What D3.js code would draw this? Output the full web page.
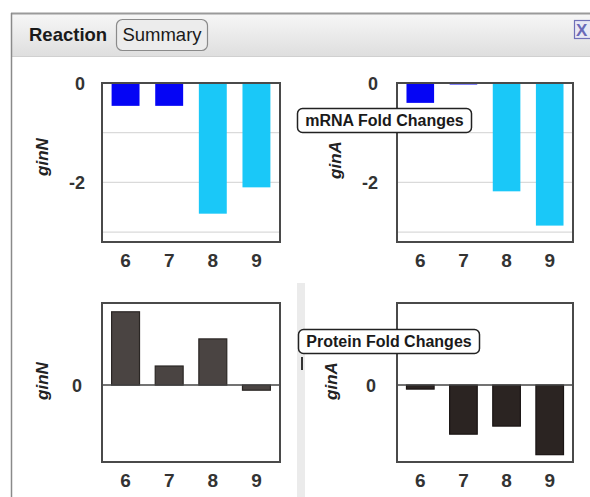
<!DOCTYPE html>
<html>
<head>
<meta charset="utf-8">
<script src="https://cdn.jsdelivr.net/npm/d3@7"></script>
<style>
html,body{margin:0;padding:0;background:#fff;}
svg{display:block;font-family:"Liberation Sans",Arial,sans-serif;}
</style>
</head>
<body>
<svg id="c" width="590" height="497"></svg>
<script>
// ---- data ----
const categories = ["6", "7", "8", "9"];
const mrnaGinN = [-0.46, -0.46, -2.63, -2.1];
const mrnaGinA = [-0.4, -0.03, -2.18, -2.87];
const proteinGinN = [1.0, 0.26, 0.63, -0.07];
const proteinGinA = [-0.055, -0.67, -0.56, -0.95];
const mrnaBarColors = ["#0505f5", "#0505f5", "#1ac8f8", "#1ac8f8"];
const mrnaTicks = [0, -2];
const mrnaGrid = [-1, -2, -3];
const proteinTicks = [0];
const geneLabels = ["ginN", "ginA"];
const sectionTitles = ["mRNA Fold Changes", "Protein Fold Changes"];

const svg = d3.select("#c");

// ---- window chrome ----
const defs = svg.append("defs");
const grad = defs.append("linearGradient").attr("id", "hdr").attr("x1", 0).attr("y1", 0).attr("x2", 0).attr("y2", 1);
grad.append("stop").attr("offset", "0%").attr("stop-color", "#f7f7f7");
grad.append("stop").attr("offset", "100%").attr("stop-color", "#dedede");

svg.append("rect").attr("x", 11).attr("y", 13).attr("width", 590).attr("height", 44).attr("fill", "url(#hdr)");
svg.append("line").attr("x1", 11).attr("x2", 590).attr("y1", 13.5).attr("y2", 13.5).attr("stroke", "#9a9a9a").attr("stroke-width", 2);
svg.append("line").attr("x1", 11).attr("x2", 590).attr("y1", 56.5).attr("y2", 56.5).attr("stroke", "#d0d0d0").attr("stroke-width", 1);
svg.append("line").attr("x1", 11.5).attr("x2", 11.5).attr("y1", 13).attr("y2", 497).attr("stroke", "#8a8a8a").attr("stroke-width", 1.5);

svg.append("text").attr("x", 29).attr("y", 41).attr("font-size", 18.5).attr("font-weight", "bold").attr("fill", "#1a1a1a").text("Reaction");
svg.append("rect").attr("x", 116.5).attr("y", 19.5).attr("width", 91).attr("height", 31).attr("rx", 6)
  .attr("fill", "#ececec").attr("stroke", "#8a8a8a").attr("stroke-width", 1.2);
svg.append("text").attr("x", 162).attr("y", 41).attr("text-anchor", "middle").attr("font-size", 18.5).attr("fill", "#1a1a1a").text("Summary");

// close button
svg.append("rect").attr("x", 574.5).attr("y", 20.5).attr("width", 18).attr("height", 18).attr("fill", "#e8e8f4").attr("stroke", "#7070b8").attr("stroke-width", 1.2);
svg.append("text").attr("x", 576).attr("y", 36).attr("font-size", 17).attr("font-weight", "bold").attr("fill", "#6a6ab8").text("X");

// separator strip
svg.append("rect").attr("x", 297).attr("y", 283).attr("width", 8).attr("height", 214).attr("fill", "#ebebeb");
svg.append("rect").attr("x", 301).attr("y", 357).attr("width", 2).attr("height", 13).attr("fill", "#333");

// ---- panels ----
function panel(opt) {
  const g = svg.append("g");
  const x = d3.scaleBand().domain(categories).range([opt.x0, opt.x1]).paddingInner(0.36).paddingOuter(0.22);
  const y = d3.scaleLinear().domain(opt.domain).range([opt.y1, opt.y0]);

  g.selectAll(".grid").data(opt.grid).join("line")
    .attr("x1", opt.x0).attr("x2", opt.x1)
    .attr("y1", d => y(d)).attr("y2", d => y(d))
    .attr("stroke", "#dadada").attr("stroke-width", 1.3);

  g.selectAll(".bar").data(opt.values).join("rect")
    .attr("x", (d, i) => x(categories[i]))
    .attr("width", x.bandwidth())
    .attr("y", d => y(Math.max(0, d)))
    .attr("height", d => Math.abs(y(d) - y(0)))
    .attr("fill", (d, i) => opt.colors[i])
    .attr("stroke", opt.barStroke || "none")
    .attr("stroke-width", opt.barStroke ? 1.2 : 0);

  if (opt.zeroLine) {
    g.append("line").attr("x1", opt.x0).attr("x2", opt.x1).attr("y1", y(0)).attr("y2", y(0))
      .attr("stroke", "#444").attr("stroke-width", 1.5);
  }

  g.append("rect").attr("x", opt.x0).attr("y", opt.y0).attr("width", opt.x1 - opt.x0).attr("height", opt.y1 - opt.y0)
    .attr("fill", "none").attr("stroke", "#4a4a4a").attr("stroke-width", 2);

  const ya = d3.axisLeft(y).tickValues(opt.ticks).tickFormat(d => String(d)).tickSize(0).tickPadding(opt.tickPad);
  const yg = g.append("g").attr("transform", `translate(${opt.x0},0)`).call(ya);
  yg.select(".domain").remove();
  yg.selectAll("text").attr("font-size", 18).attr("font-weight", "bold").attr("fill", "#333")
    .attr("font-family", "'Liberation Sans',Arial,sans-serif").attr("dy", "0.35em");

  const xa = d3.axisBottom(x).tickSize(0).tickPadding(12);
  const xg = g.append("g").attr("transform", `translate(0,${opt.y1})`).call(xa);
  xg.select(".domain").remove();
  xg.selectAll("text").attr("font-size", 19).attr("font-weight", "bold").attr("fill", "#333")
    .attr("font-family", "'Liberation Sans',Arial,sans-serif");

  g.append("text").attr("transform", `translate(${opt.labelX},${opt.labelY}) rotate(-90)`)
    .attr("text-anchor", "middle").attr("dy", "0.35em")
    .attr("font-size", 17).attr("font-weight", "bold").attr("font-style", "italic").attr("fill", "#222")
    .text(opt.label);
}

const mrnaDomain = [-3.2, 0];
const protDomain = [-1.05, 1.12];

panel({x0: 102, x1: 280, y0: 83, y1: 242, domain: mrnaDomain, values: mrnaGinN, colors: mrnaBarColors,
  grid: mrnaGrid, ticks: mrnaTicks, tickPad: 17, label: geneLabels[0], labelX: 42, labelY: 157});
panel({x0: 397, x1: 573, y0: 83, y1: 242, domain: mrnaDomain, values: mrnaGinA, colors: mrnaBarColors,
  grid: mrnaGrid, ticks: mrnaTicks, tickPad: 19, label: geneLabels[1], labelX: 335, labelY: 160});
panel({x0: 102, x1: 280, y0: 303, y1: 462, domain: protDomain, values: proteinGinN, colors: categories.map(() => "#4a4442"),
  barStroke: "#2a2624", grid: [], ticks: proteinTicks, tickPad: 20, zeroLine: true, label: geneLabels[0], labelX: 42, labelY: 381});
panel({x0: 397, x1: 573, y0: 303, y1: 462, domain: protDomain, values: proteinGinA, colors: categories.map(() => "#2b2422"),
  barStroke: "#1a1514", grid: [], ticks: proteinTicks, tickPad: 21, zeroLine: true, label: geneLabels[1], labelX: 331, labelY: 381});

function titleBox(x, y, w, h, text) {
  svg.append("rect").attr("x", x).attr("y", y).attr("width", w).attr("height", h).attr("rx", 5)
    .attr("fill", "#fff").attr("stroke", "#222").attr("stroke-width", 1.5);
  svg.append("text").attr("x", x + w / 2).attr("y", y + h / 2).attr("dy", "0.36em").attr("text-anchor", "middle")
    .attr("font-size", 16).attr("font-weight", "bold").attr("fill", "#1a1a1a").text(text);
}
titleBox(297.5, 108.5, 174, 24, sectionTitles[0]);
titleBox(298.5, 329.5, 181, 24, sectionTitles[1]);
</script>
</body>
</html>
